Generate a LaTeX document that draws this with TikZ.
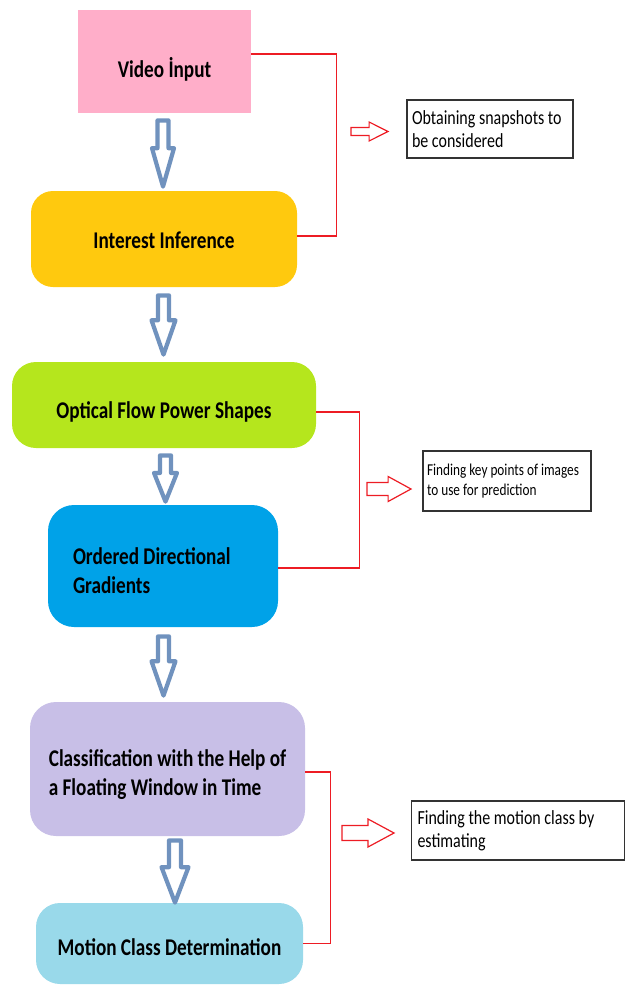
\documentclass[tikz,border=0pt]{standalone}
\usepackage{fontspec}
\setmainfont{Carlito}[FakeStretch=0.8]
\usetikzlibrary{calc}

\definecolor{pinkbox}{HTML}{FFAEC9}
\definecolor{goldbox}{HTML}{FFC90E}
\definecolor{limebox}{HTML}{B5E61D}
\definecolor{bluebox}{HTML}{00A2E8}
\definecolor{lavbox}{HTML}{C8BFE7}
\definecolor{aquabox}{HTML}{99D9EA}
\definecolor{arrowblue}{HTML}{7092BE}
\definecolor{linered}{HTML}{ED1C24}

\begin{document}
\begin{tikzpicture}[
  x=0.5pt, y=-0.5pt,
  stage/.style={font=\bfseries\fontsize{12}{14.5}\selectfont, align=center, inner sep=0pt},
  drop/.style={text height=#1, text depth=0pt},
  note/.style={draw=black!80, line width=0.75pt, align=flush left, inner xsep=2.5pt, inner ysep=0pt,
    font=\fontsize{10}{11.5}\selectfont},
  bracket/.style={draw=linered, line width=0.6pt},
  hollowpath/.style n args={3}{to path={
    ($(\tikztostart)!#1!90:(\tikztotarget)$)
    -- ($(\tikztostart)!#3!(\tikztotarget)!#1!90:(\tikztotarget)$)
    -- ($(\tikztostart)!#3!(\tikztotarget)!#2!90:(\tikztotarget)$)
    -- (\tikztotarget)
    -- ($(\tikztostart)!#3!(\tikztotarget)!#2!-90:(\tikztotarget)$)
    -- ($(\tikztostart)!#3!(\tikztotarget)!#1!-90:(\tikztotarget)$)
    -- ($(\tikztostart)!#1!-90:(\tikztotarget)$) -- cycle}},
  blockarrow/.style n args={3}{hollowpath={#1}{#2}{#3}, draw=arrowblue, line width=2.1pt,
    fill=white, line join=round},
  notearrow/.style n args={3}{hollowpath={#1}{#2}{#3}, draw=linered, line width=0.6pt,
    fill=white}
]
\useasboundingbox (0,0) rectangle (626,985);

% stages
\node[stage, drop=16pt, fill=pinkbox, minimum width=86.5pt, minimum height=51.5pt] (v) at (164.5,61.5) {Video İnput};
\node[stage, drop=9pt, fill=goldbox, rounded corners=11pt, minimum width=133pt, minimum height=48pt] (ii) at (164,239) {Interest Inference};
\node[stage, drop=13.6pt, fill=limebox, rounded corners=12pt, minimum width=152pt, minimum height=43pt] (of) at (164,405) {Optical Flow Power Shapes};
\node[stage, fill=bluebox, rounded corners=13pt, minimum width=115pt, minimum height=61pt,
  text width=90pt, align=flush left] (od) at (163,566) {\rule{0pt}{13pt}Ordered Directional\\Gradients};
\node[stage, fill=lavbox, rounded corners=13pt, minimum width=137.5pt, minimum height=67pt,
  align=left] (cw) at (167.5,769) {\rule{0pt}{14pt}Classification with the Help of\\a Floating Window in Time};
\node[stage, drop=12pt, fill=aquabox, rounded corners=12pt, minimum width=133.5pt, minimum height=40.5pt] (mc) at (169.5,943.5) {Motion Class Determination};

% notes
\node[note, minimum height=29pt, text width=78pt] (n1) at (490,129) {Obtaining snapshots to\\be considered};
\node[note, font=\fontsize{8.3}{10}\selectfont, inner xsep=2pt, minimum height=30pt, text width=80pt] (n2) at (507,481) {Finding key points of images\\to use for prediction};
\node[note, inner xsep=3pt, minimum height=29.5pt, text width=100.5pt] (n3) at (518,830.5) {Finding the motion class by\\estimating};

% flow arrows
\coordinate (a1s) at ($(v.south)+(-1.5,7)$);
\coordinate (a1e) at ($(v.south |- ii.north)+(-1.5,-4)$);
\coordinate (a2s) at ($(ii.south)+(-0.5,8)$);
\coordinate (a2e) at ($(ii.south |- of.north)+(-0.5,-7)$);
\coordinate (a3s) at ($(of.south)+(1.5,7)$);
\coordinate (a3e) at ($(of.south |- od.north)+(1.5,-3)$);
\coordinate (a4s) at ($(od.south)+(0.5,9)$);
\coordinate (a4e) at ($(od.south |- cw.north)+(0.5,-6)$);
\coordinate (a5s) at ($(cw.south)+(7.5,4)$);
\coordinate (a5e) at ($(cw.south |- mc.north)+(7.5,0)$);
\draw[blockarrow={2.75pt}{5.5pt}{0.42}] (a1s) to (a1e);
\draw[blockarrow={2.75pt}{6pt}{0.42}] (a2s) to (a2e);
\draw[blockarrow={2.75pt}{5.75pt}{0.38}] (a3s) to (a3e);
\draw[blockarrow={2.75pt}{6pt}{0.42}] (a4s) to (a4e);
\draw[blockarrow={3pt}{6.75pt}{0.43}] (a5s) to (a5e);

% brackets
\draw[bracket] ([yshift=3.75pt]v.east) -- ++(85,0) |- ([yshift=1.5pt]ii.east);
\draw[bracket] ([yshift=-3.5pt]of.east) -- ++(43,0) |- ([yshift=-1pt]od.east);
\draw[bracket] ([yshift=-1.5pt]cw.east) -- ++(25,0) |- (mc.east);

% arrows towards the notes
\coordinate (r1s) at (351,131.5);
\coordinate (r1e) at (388,131.5);
\coordinate (r2s) at (367,489);
\coordinate (r2e) at (411,489);
\coordinate (r3s) at (342,833);
\coordinate (r3e) at (394,833);
\draw[notearrow={2pt}{4.75pt}{0.49}] (r1s) to (r1e);
\draw[notearrow={3.25pt}{6.25pt}{0.48}] (r2s) to (r2e);
\draw[notearrow={3.75pt}{7pt}{0.5}] (r3s) to (r3e);

\end{tikzpicture}
\end{document}
